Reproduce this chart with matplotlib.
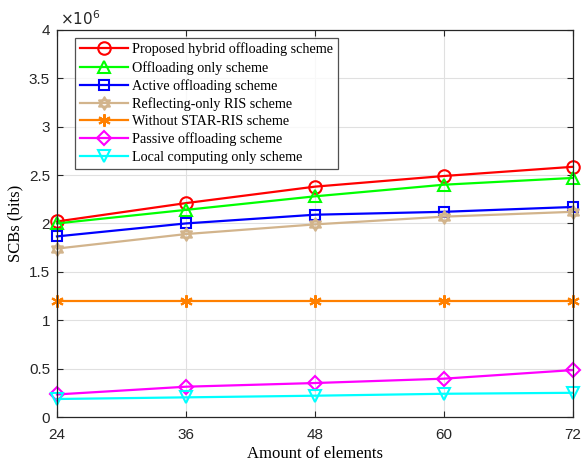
import numpy as np
import matplotlib
matplotlib.use('Agg')
import matplotlib.pyplot as plt
from matplotlib.path import Path

# 数据
elements = [24, 36, 48, 60, 72]
proposed = [2.02, 2.21, 2.38, 2.49, 2.585]
offload_only = [2.00, 2.14, 2.28, 2.40, 2.47]
active = [1.866, 2.00, 2.09, 2.12, 2.17]
reflecting = [1.74, 1.89, 1.99, 2.07, 2.12]
without_star = [1.20, 1.20, 1.20, 1.20, 1.20]
passive = [0.233, 0.313, 0.351, 0.396, 0.485]
local = [0.186, 0.203, 0.22, 0.24, 0.25]

labels = ['Proposed hybrid offloading scheme', 'Offloading only scheme',
          'Active offloading scheme', 'Reflecting-only RIS scheme',
          'Without STAR-RIS scheme', 'Passive offloading scheme',
          'Local computing only scheme']

# 六角星标记
t = np.pi / 2 + np.arange(3) * 2 * np.pi / 3
tri1 = np.column_stack([np.cos(t), np.sin(t)])
tri2 = -tri1
verts = np.vstack([tri1, tri1[:1], tri2, tri2[:1]])
codes = [Path.MOVETO, Path.LINETO, Path.LINETO, Path.CLOSEPOLY] * 2
hexagram = Path(verts, codes)

series = [
    (proposed, 'red', 'o'),
    (offload_only, '#00ff00', '^'),
    (active, 'blue', 's'),
    (reflecting, '#d2b48c', hexagram),
    (without_star, '#ff8000', (6, 2, 0)),
    (passive, 'magenta', 'D'),
    (local, 'cyan', 'v'),
]

fig = plt.figure(figsize=(5.85, 4.62), dpi=100)
ax = fig.add_axes([0.0974, 0.0974, 0.882, 0.838])

for (vals, c, m), lab in zip(series, labels):
    ms = 9
    if m == 's':
        ms = 7.5
    elif m == 'D':
        ms = 7.5
    ax.plot(elements, np.array(vals) * 1e6, color=c, marker=m, markersize=ms,
            markerfacecolor='none', markeredgecolor=c, markeredgewidth=1.5,
            linewidth=1.6, label=lab, clip_on=False, zorder=3)

ax.set_xlim(24, 72)
ax.set_ylim(0, 4e6)
ax.set_xticks(elements)
ax.set_yticks(np.arange(0, 4.01e6, 0.5e6))
ax.set_yticklabels(['0', '0.5', '1', '1.5', '2', '2.5', '3', '3.5', '4'])
ax.grid(True, color='#e0e0e0', linewidth=0.8)
ax.set_axisbelow(True)
ax.tick_params(direction='in', top=True, right=True, length=4, colors='#262626',
               labelsize=11, pad=5)
ax.tick_params(axis='x', pad=8)
for lbl in ax.get_xticklabels() + ax.get_yticklabels():
    lbl.set_fontfamily('Liberation Sans')
for s in ax.spines.values():
    s.set_color('#262626')
    s.set_linewidth(0.9)
    s.set_zorder(4)

ax.text(0.005, 1.005, r'$\times10^{6}$', transform=ax.transAxes, fontsize=11,
        family='Liberation Sans', color='#262626', va='bottom', ha='left')
ax.set_xlabel('Amount of elements', family='Liberation Serif', fontsize=12, labelpad=3)
ax.set_ylabel('SCBs (bits)', family='Liberation Serif', fontsize=12, labelpad=4)

leg = ax.legend(loc='upper left', bbox_to_anchor=(0.035, 0.98), prop={'family': 'Liberation Serif', 'size': 10.2},
                frameon=True, fancybox=False, edgecolor='#262626', handlelength=3.4,
                handletextpad=0.3, labelspacing=0.31, borderpad=0.35, borderaxespad=0)
leg.get_frame().set_linewidth(0.9)
leg.set_zorder(5)

plt.savefig('out.png', dpi=100)
